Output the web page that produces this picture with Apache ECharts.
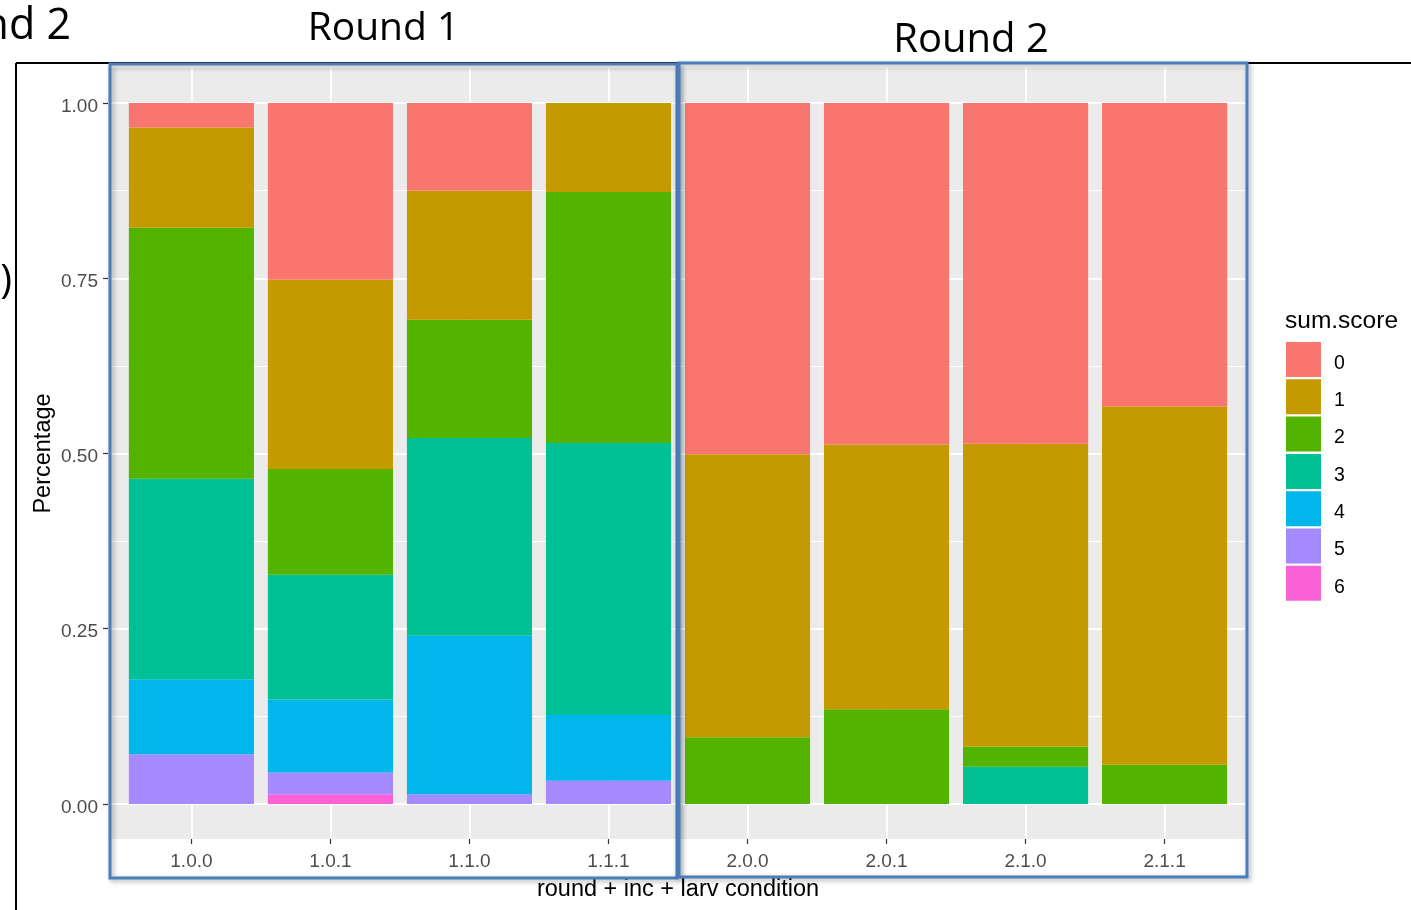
<!DOCTYPE html>
<html>
<head>
<meta charset="utf-8">
<script src="https://cdn.jsdelivr.net/npm/echarts@6/dist/echarts.min.js"></script>
<style>
  html, body { margin: 0; padding: 0; background: #ffffff; }
  #chart { width: 1411px; height: 910px; }
</style>
</head>
<body>
<div id="chart"></div>
<script>
// ---- data ----
const categories = ['1.0.0', '1.0.1', '1.1.0', '1.1.1', '2.0.0', '2.0.1', '2.1.0', '2.1.1'];
const scoreLevels = ['0', '1', '2', '3', '4', '5', '6'];
const score0 = [0.035, 0.252, 0.125, 0.000, 0.501, 0.487, 0.486, 0.433];
const score1 = [0.143, 0.270, 0.184, 0.127, 0.404, 0.378, 0.432, 0.511];
const score2 = [0.358, 0.151, 0.169, 0.358, 0.095, 0.135, 0.029, 0.056];
const score3 = [0.286, 0.178, 0.282, 0.388, 0.000, 0.000, 0.053, 0.000];
const score4 = [0.107, 0.104, 0.226, 0.094, 0.000, 0.000, 0.000, 0.000];
const score5 = [0.071, 0.031, 0.014, 0.033, 0.000, 0.000, 0.000, 0.000];
const score6 = [0.000, 0.014, 0.000, 0.000, 0.000, 0.000, 0.000, 0.000];
const yTicks = [0, 0.25, 0.5, 0.75, 1];
const yTickLabels = ['0.00', '0.25', '0.50', '0.75', '1.00'];
const yMinorTicks = [0.125, 0.375, 0.625, 0.875];
const xTitle = 'round + inc + larv condition';
const yTitle = 'Percentage';
const legendTitle = 'sum.score';

// ---- styling ----
const scoreColors = ['#F8766D', '#C49A00', '#53B400', '#00C094', '#00B6EB', '#A58AFF', '#FB61D7'];
const scoreSeries = [score0, score1, score2, score3, score4, score5, score6];
const FONT = '"Liberation Sans", Arial, sans-serif';
const SLIDE_FONT = '"Open Sans", "Noto Sans", sans-serif';

// ggplot-like panel with expansion (0.6 units discrete, 5% continuous)
const panel = { left: 108, top: 68, width: 1140, height: 771 };
const X_PAD = 0.6, Y_PAD = 0.05;
const nCat = categories.length;
const unitX = panel.width / (nCat - 1 + 2 * X_PAD);
const unitY = panel.height / (1 + 2 * Y_PAD);
const catIdx = categories.map((c, i) => i);

const gridPanel = {
  left: panel.left, top: panel.top, width: panel.width, height: panel.height,
  show: true, backgroundColor: '#EBEBEB', borderWidth: 0, containLabel: false
};
const gridBars = {
  left: panel.left + (X_PAD - 0.5) * unitX,
  top: panel.top + Y_PAD * unitY,
  width: nCat * unitX,
  height: unitY,
  show: false, containLabel: false
};

const series = [];
for (let k = scoreLevels.length - 1; k >= 0; k--) {
  series.push({
    type: 'bar',
    name: scoreLevels[k],
    stack: 'total',
    xAxisIndex: 1,
    yAxisIndex: 2,
    barCategoryGap: '10%',
    data: scoreSeries[k],
    itemStyle: { color: scoreColors[k] },
    emphasis: { disabled: true },
    z: 3
  });
}

const chart = echarts.init(document.getElementById('chart'), null, { renderer: 'canvas' });
chart.setOption({
  animation: false,
  backgroundColor: '#ffffff',
  textStyle: { fontFamily: FONT },
  grid: [gridPanel, gridBars],
  xAxis: [
    {
      type: 'value', gridIndex: 0, position: 'bottom',
      min: -X_PAD, max: nCat - 1 + X_PAD,
      axisLine: { show: false, onZero: false },
      axisTick: { show: true, customValues: catIdx, length: 5, lineStyle: { color: '#333333', width: 1.2 } },
      axisLabel: {
        show: true, customValues: catIdx, margin: 13,
        formatter: v => categories[Math.round(v)],
        color: '#4D4D4D', fontSize: 19, fontFamily: FONT
      },
      splitLine: { show: true, lineStyle: { color: '#FFFFFF', width: 2 } },
      name: xTitle, nameLocation: 'middle', nameGap: 39,
      nameTextStyle: { color: '#000000', fontSize: 23.5, fontFamily: FONT }
    },
    {
      type: 'category', gridIndex: 1, data: categories, boundaryGap: true, show: false,
      axisLine: { onZero: false }
    }
  ],
  yAxis: [
    {
      type: 'value', gridIndex: 0, position: 'left',
      min: -Y_PAD, max: 1 + Y_PAD,
      axisLine: { show: false, onZero: false },
      axisTick: { show: true, customValues: yTicks, length: 5, lineStyle: { color: '#333333', width: 1.2 } },
      axisLabel: {
        show: true, customValues: yTicks, margin: 10,
        formatter: v => '{t|' + yTickLabels[yTicks.findIndex(t => Math.abs(t - v) < 1e-6)] + '}',
        rich: { t: { color: '#4D4D4D', fontSize: 19, fontFamily: FONT, padding: [7, 0, 0, 0] } },
        color: '#4D4D4D', fontSize: 19, fontFamily: FONT
      },
      splitLine: { show: true, lineStyle: { color: '#FFFFFF', width: 2 } },
      name: yTitle, nameLocation: 'middle', nameGap: 52, nameRotate: 90, nameMoveOverlap: false,
      nameTextStyle: { color: '#000000', fontSize: 23.5, fontFamily: FONT }
    },
    {
      type: 'value', gridIndex: 0, position: 'left',
      min: -Y_PAD, max: 1 + Y_PAD,
      axisLine: { show: false, onZero: false },
      axisTick: { show: false, customValues: yMinorTicks },
      axisLabel: { show: false, customValues: yMinorTicks },
      splitLine: { show: true, lineStyle: { color: '#FFFFFF', width: 1 } }
    },
    {
      type: 'value', gridIndex: 1, min: 0, max: 1, show: false,
      axisLine: { onZero: false }
    }
  ],
  legend: {
    orient: 'vertical',
    left: 1286, top: 342,
    itemWidth: 35, itemHeight: 35, itemGap: 2.3,
    icon: 'rect',
    selectedMode: false,
    padding: 0,
    data: scoreLevels,
    formatter: name => '{t|' + name + '}',
    textStyle: {
      color: '#000000', fontSize: 19.5, fontFamily: FONT,
      rich: { t: { color: '#000000', fontSize: 19.5, fontFamily: FONT, padding: [8, 0, 0, 8] } }
    }
  },
  series: series,
  graphic: [
    { type: 'text', left: 1285, top: 309, z: 50,
      style: { text: legendTitle, fill: '#000000', font: '24.5px ' + FONT } },
    // slide frame lines
    { type: 'line', z: 90, shape: { x1: 16, y1: 63, x2: 1411, y2: 63 }, style: { stroke: '#000000', lineWidth: 2 } },
    { type: 'line', z: 90, shape: { x1: 16, y1: 63, x2: 16, y2: 910 }, style: { stroke: '#000000', lineWidth: 2 } },
    // blue annotation boxes
    { type: 'rect', z: 100, shape: { x: 110, y: 64, width: 567, height: 814 },
      style: { fill: 'none', stroke: '#4A7EBB', lineWidth: 3, shadowBlur: 5, shadowColor: 'rgba(0,0,0,0.35)', shadowOffsetX: 2, shadowOffsetY: 2 } },
    { type: 'rect', z: 100, shape: { x: 679, y: 63, width: 568, height: 814 },
      style: { fill: 'none', stroke: '#4A7EBB', lineWidth: 3, shadowBlur: 5, shadowColor: 'rgba(0,0,0,0.35)', shadowOffsetX: 2, shadowOffsetY: 2 } },
    // slide annotation texts
    { type: 'text', z: 100, x: 383.5, y: 29,
      style: { text: 'Round 1', fill: '#000000', font: '39px ' + SLIDE_FONT, align: 'center', verticalAlign: 'middle', textAlign: 'center', textVerticalAlign: 'middle' } },
    { type: 'text', z: 100, x: 971, y: 40.5,
      style: { text: 'Round 2', fill: '#000000', font: '40px ' + SLIDE_FONT, align: 'center', verticalAlign: 'middle', textAlign: 'center', textVerticalAlign: 'middle' } },
    { type: 'text', z: 100, x: 71, y: 27,
      style: { text: 'Round 2', fill: '#000000', font: '43px ' + SLIDE_FONT, align: 'right', verticalAlign: 'middle', textAlign: 'right', textVerticalAlign: 'middle' } },
    { type: 'text', z: 100, x: 12, y: 282,
      style: { text: ')', fill: '#000000', font: '40px ' + SLIDE_FONT, align: 'right', verticalAlign: 'middle', textAlign: 'right', textVerticalAlign: 'middle' } }
  ]
});
</script>
</body>
</html>
